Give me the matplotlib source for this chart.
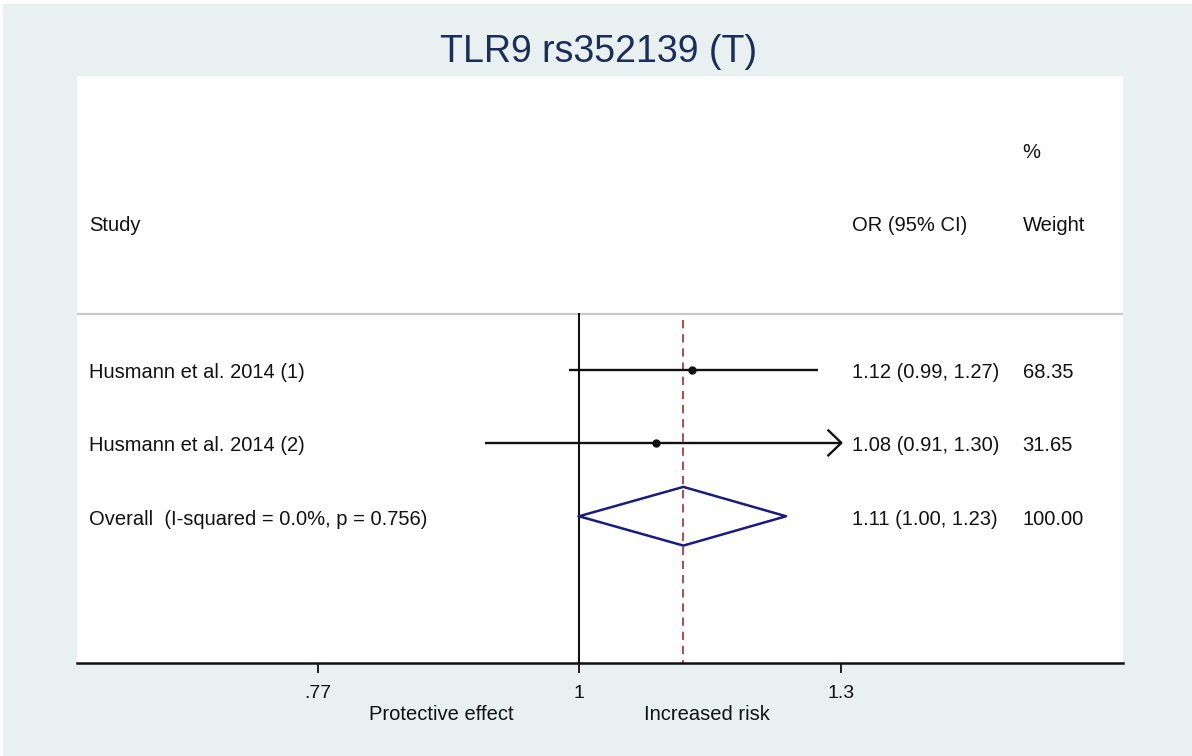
import numpy as np
import matplotlib
matplotlib.use('Agg')
import matplotlib.pyplot as plt
import matplotlib.patches as mpatches
import matplotlib.transforms as mtransforms

plt.rcParams['font.family'] = ['Liberation Sans', 'DejaVu Sans']

# ---- data ---------------------------------------------------------------
studies = ['Husmann et al. 2014 (1)', 'Husmann et al. 2014 (2)']
or_est = [1.12, 1.08]
ci_low = [0.99, 0.91]
ci_high = [1.27, 1.30]
weights = [68.35, 31.65]

overall_label = 'Overall  (I-squared = 0.0%, p = 0.756)'
overall_or = 1.11
overall_low = 1.00
overall_high = 1.23
overall_weight = 100.00

x_ticks = [0.77, 1.0, 1.3]
x_ticklabels = ['.77', '1', '1.3']

title = 'TLR9 rs352139 (T)'

# ---- style --------------------------------------------------------------
BG = '#e8f0f2'
NAVY = '#1c2d57'
DIAMOND = '#1b1b7e'
RED = '#a02c36'
TXT = '#111111'
FS = 14.5
DY = 0.04  # small downward nudge of text relative to marks

W, H = 1192, 756
fig = plt.figure(figsize=(W / 100, H / 100), dpi=100)
fig.patch.set_facecolor('white')
fig.add_artist(mpatches.Rectangle((3 / W, 0), 1, 1 - 4 / H, transform=fig.transFigure,
                                  facecolor=BG, edgecolor='none', zorder=0))

# plot region (white) in pixel units
left, right, top, bottom = 77, 1123, 76, 663
ax = fig.add_axes([left / W, (H - bottom) / H, (right - left) / W, (bottom - top) / H])
ax.set_facecolor('white')
ax.set_xscale('log')
ax.set_xlim(np.exp(-0.502), np.exp(0.544))
ax.set_ylim(8, 0)

for s in ('left', 'right', 'top'):
    ax.spines[s].set_visible(False)
ax.spines['bottom'].set_linewidth(1.8)
ax.spines['bottom'].set_color('#111111')

ax.set_xticks(x_ticks)
ax.set_xticklabels(x_ticklabels, fontsize=FS - 0.5, color=TXT)
ax.xaxis.set_minor_locator(matplotlib.ticker.NullLocator())
ax.tick_params(axis='x', direction='out', length=7.5, width=1.3, pad=8, color='#111111')
ax.set_yticks([])

# header
xcol = mtransforms.blended_transform_factory(ax.transAxes, ax.transData)
LBL_X, OR_X, WT_X = 0.0115, 0.741, 0.904
txt_kw = dict(transform=xcol, fontsize=FS, va='center', ha='left', color=TXT)
ax.text(LBL_X, 2 + DY, 'Study', **txt_kw)
ax.text(OR_X, 2 + DY, 'OR (95% CI)', **txt_kw)
ax.text(WT_X, 1 + DY, '%', **txt_kw)
ax.text(WT_X, 2 + DY, 'Weight', **txt_kw)

LINE_Y = 3.25
ax.axhline(LINE_Y, color='#c8c8c8', lw=1.6, zorder=1)

# reference lines
ax.plot([1, 1], [LINE_Y, 8], color='#111111', lw=1.5, zorder=2)
ax.plot([overall_or, overall_or], [LINE_Y + 0.07, 8], color=RED, lw=1.2,
        linestyle=(0, (5, 3.5)), zorder=2)

# studies
rows = np.arange(len(studies)) + 4
x_max = max(x_ticks)
for y, name, est, lo, hi, w in zip(rows, studies, or_est, ci_low, ci_high, weights):
    ax.plot([lo, hi], [y, y], color='#111111', lw=1.7, zorder=3, solid_capstyle='butt')
    ax.plot(est, y, 'o', ms=5, color='#111111', zorder=4)
    if hi >= x_max:
        ax.plot([hi * np.exp(-0.013), hi, hi * np.exp(-0.013)], [y - 0.17, y, y + 0.17],
                color='#111111', lw=1.7, zorder=3)
    ax.text(LBL_X, y + DY, name, **txt_kw)
    ax.text(OR_X, y + DY, f'{est:.2f} ({lo:.2f}, {hi:.2f})', **txt_kw)
    ax.text(WT_X, y + DY, f'{w:.2f}', **txt_kw)

# overall diamond
oy = rows[-1] + 1
ax.plot([overall_low, overall_or, overall_high, overall_or, overall_low],
        [oy, oy - 0.4, oy, oy + 0.4, oy], color=DIAMOND, lw=1.8, zorder=4)
ax.text(LBL_X, oy + DY, overall_label, **txt_kw)
ax.text(OR_X, oy + DY, f'{overall_or:.2f} ({overall_low:.2f}, {overall_high:.2f})', **txt_kw)
ax.text(WT_X, oy + DY, f'{overall_weight:.2f}', **txt_kw)

# favours labels
ax.text(0.348, -0.088, 'Protective effect', transform=ax.transAxes, fontsize=FS,
        ha='center', va='center', color=TXT)
ax.text(0.602, -0.088, 'Increased risk', transform=ax.transAxes, fontsize=FS,
        ha='center', va='center', color=TXT)

fig.text(599 / W, 1 - 52 / H, title, fontsize=27, color=NAVY, ha='center', va='center')

fig.savefig('out.png', dpi=100, facecolor=fig.get_facecolor())
